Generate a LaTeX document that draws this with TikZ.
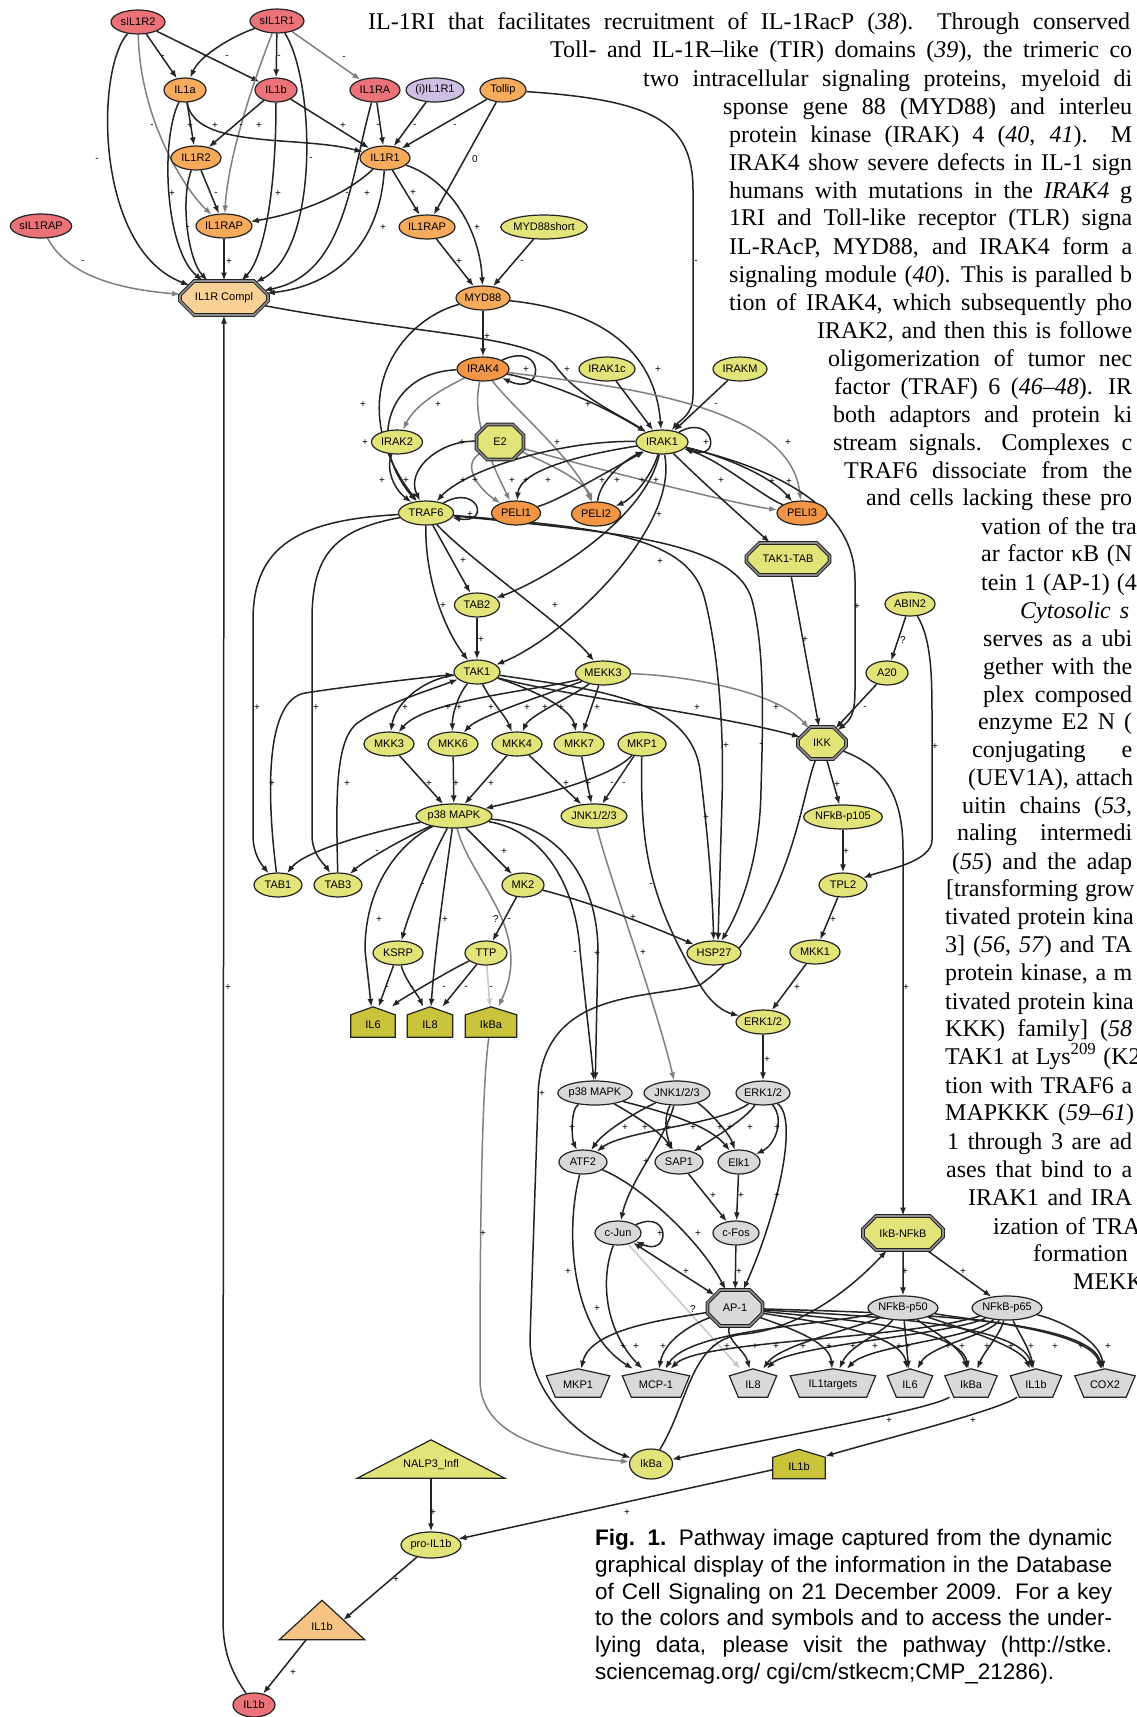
\documentclass[tikz,border=0pt]{standalone}
\usepackage{fontspec}
\setmainfont{Liberation Serif}
\setsansfont{Liberation Sans}
\usetikzlibrary{shapes.geometric,shapes.misc,arrows.meta,calc}
\definecolor{cred}{RGB}{234,114,120}
\definecolor{corg}{RGB}{246,170,92}
\definecolor{corgb}{RGB}{242,150,70}
\definecolor{cpale}{RGB}{249,208,150}
\definecolor{cpur}{RGB}{206,190,228}
\definecolor{cyel}{RGB}{226,228,122}
\definecolor{colv}{RGB}{201,196,60}
\definecolor{cgry}{RGB}{217,217,217}
\definecolor{ctri}{RGB}{245,196,132}
\definecolor{edk}{RGB}{35,35,35}
\pgfdeclarelayer{back}\pgfdeclarelayer{bg}\pgfsetlayers{back,bg,main}
\newcounter{lbc}
\newcommand\ptxfont{\rmfamily\fontsize{24}{28}\selectfont\spaceskip=9pt plus 9pt minus 2pt\relax}
\tikzset{
 nf/.style={font=\sffamily\fontsize{11}{12}\selectfont, inner sep=0pt},
 nd/.style={ellipse, draw=edk, line width=1.2pt, nf, minimum height=24pt},
 rd/.style={nd, fill=cred}, og/.style={nd, fill=corg}, ogb/.style={nd, fill=corgb},
 pu/.style={nd, fill=cpur}, yl/.style={nd, fill=cyel}, gy/.style={nd, fill=cgry},
 oct/.style={chamfered rectangle, chamfered rectangle xsep=9pt, chamfered rectangle ysep=9pt,
   draw=edk, double=black!45, double distance=1.6pt, line width=1pt, nf},
 shp/.style={inner sep=0pt, draw=none},
 hs/.style={fill=colv, draw=edk, line width=1.2pt},
 ps/.style={fill=cgry, draw=edk, line width=1.2pt},
 lb/.style={font=\sffamily\fontsize{10}{10}\selectfont, inner sep=0pt},
 ar/.style={draw=edk, line width=1.5pt, -{Latex[length=8pt,width=6pt]}},
 ab/.style={draw=edk, line width=1.5pt, {Latex[length=8pt,width=6pt]}-{Latex[length=8pt,width=6pt]}},
 ag/.style={ar, draw=black!50},
 al/.style={ar, draw=black!22},
 ptx/.style={anchor=base west, inner sep=0pt, font=\ptxfont},
 ctx/.style={anchor=base west, inner sep=0pt, font=\sffamily\fontsize{22.5}{26}\selectfont}
}
\newcommand\lab[3]{\stepcounter{lbc}\node[lb] (lab\arabic{lbc}) at (#1,-#2) {#3};}
\newcommand\tl[4]{\node[ptx] (#1) at (#2,-#3) {\makebox[\dimexpr1132pt-#2pt\relax][s]{#4}};}
\newcommand\house[6]{%
 \node[shp, minimum width=#4pt, minimum height=#5pt] (#1) at (#2,-#3) {};
 \filldraw[hs] (#1.south west) -- ($(#1.north west)+(0,-8)$) -- (#1.north) -- ($(#1.north east)+(0,-8)$) -- (#1.south east) -- cycle;
 \node[nf] (#1t) at ($(#1)+(0,-3)$) {#6};}
\newcommand\pent[5]{%
 \node[shp, minimum width=#4pt, minimum height=28pt] (#1) at (#2,-#3) {};
 \filldraw[ps] ($(#1.north west)+(0,-7)$) -- (#1.north) -- ($(#1.north east)+(0,-7)$) -- ($(#1.south east)+(-9,0)$) -- ($(#1.south west)+(9,0)$) -- cycle;
 \node[nf] (#1t) at ($(#1)+(0,-2)$) {#5};}
\begin{document}
\begin{tikzpicture}[x=1pt,y=1pt]
\begin{pgfonlayer}{back}
\fill[white] (0,0) rectangle (1136,-1717);
\end{pgfonlayer}
\useasboundingbox (0,0) rectangle (1136,-1717);
% ---------------- nodes
\node[rd, minimum width=54pt] (sIL1R2) at (138,-22) {sIL1R2};
\node[rd, minimum width=54pt] (sIL1R1) at (277,-21) {sIL1R1};
\node[og, minimum width=42pt] (IL1a) at (185,-90) {IL1a};
\node[rd, minimum width=42pt] (IL1b) at (276,-90) {IL1b};
\node[rd, minimum width=50pt] (IL1RA) at (375,-90) {IL1RA};
\node[pu, minimum width=58pt] (iIL1R1) at (435,-90) {(i)IL1R1};
\node[og, minimum width=46pt] (Tollip) at (503,-90) {Tollip};
\node[og, minimum width=50pt] (IL1R2) at (196,-158) {IL1R2};
\node[og, minimum width=50pt] (IL1R1) at (385,-158) {IL1R1};
\node[rd, minimum width=56pt] (sIL1RAP) at (41,-226) {sIL1RAP};
\node[og, minimum width=56pt] (IL1RAPa) at (224,-226) {IL1RAP};
\node[og, minimum width=56pt] (IL1RAPb) at (427,-227) {IL1RAP};
\node[yl, minimum width=80pt] (MYD88s) at (544,-227) {MYD88short};
\node[oct, fill=cpale, minimum width=88pt, minimum height=34pt] (IL1RC) at (224,-298) {IL1R Compl};
\node[og, minimum width=54pt] (MYD88) at (483,-298) {MYD88};
\node[ogb, minimum width=52pt] (IRAK4) at (483,-369) {IRAK4};
\node[yl, minimum width=56pt] (IRAK1c) at (607,-369) {IRAK1c};
\node[yl, minimum width=54pt] (IRAKM) at (740,-369) {IRAKM};
\node[yl, minimum width=51pt] (IRAK2) at (397,-442) {IRAK2};
\node[oct, fill=cyel, minimum width=47pt, minimum height=35pt] (E2) at (500,-442) {E2};
\node[yl, minimum width=52pt] (IRAK1) at (662,-442) {IRAK1};
\node[yl, minimum width=55pt] (TRAF6) at (426,-513) {TRAF6};
\node[ogb, minimum width=49pt] (PELI1) at (516,-513) {PELI1};
\node[ogb, minimum width=49pt] (PELI2) at (596,-514) {PELI2};
\node[ogb, minimum width=50pt] (PELI3) at (802,-513) {PELI3};
\node[oct, fill=cyel, minimum width=83pt, minimum height=32pt] (TAK1TAB) at (788,-559) {TAK1-TAB};
\node[yl, minimum width=45pt] (TAB2) at (477,-605) {TAB2};
\node[yl, minimum width=50pt] (ABIN2) at (910,-604) {ABIN2};
\node[yl, minimum width=46pt] (TAK1) at (477,-672) {TAK1};
\node[yl, minimum width=55pt] (MEKK3) at (603,-673) {MEKK3};
\node[yl, minimum width=42pt] (A20) at (887,-673) {A20};
\node[yl, minimum width=50pt] (MKK3) at (389,-744) {MKK3};
\node[yl, minimum width=50pt] (MKK6) at (453,-744) {MKK6};
\node[yl, minimum width=50pt] (MKK4) at (517,-744) {MKK4};
\node[yl, minimum width=50pt] (MKK7) at (579,-744) {MKK7};
\node[yl, minimum width=48pt] (MKP1y) at (642,-744) {MKP1};
\node[oct, fill=cyel, minimum width=48pt, minimum height=32pt] (IKK) at (822,-743) {IKK};
\node[yl, minimum width=76pt] (p38) at (454,-816) {p38 MAPK};
\node[yl, minimum width=66pt] (JNK) at (594,-816) {JNK1/2/3};
\node[yl, minimum width=76pt] (p105) at (843,-817) {NFkB-p105};
\node[yl, minimum width=48pt] (TAB1) at (278,-885) {TAB1};
\node[yl, minimum width=48pt] (TAB3) at (338,-885) {TAB3};
\node[yl, minimum width=42pt] (MK2) at (523,-885) {MK2};
\node[yl, minimum width=48pt] (TPL2) at (843,-885) {TPL2};
\node[yl, minimum width=50pt] (KSRP) at (398,-953) {KSRP};
\node[yl, minimum width=42pt] (TTP) at (486,-953) {TTP};
\node[yl, minimum width=54pt] (HSP27) at (714,-953) {HSP27};
\node[yl, minimum width=50pt] (MKK1) at (815,-952) {MKK1};
\node[yl, minimum width=54pt] (ERKy) at (763,-1022) {ERK1/2};
\house{IL6h}{373}{1022}{44}{30}{IL6}
\house{IL8h}{430}{1022}{45}{30}{IL8}
\house{IkBah}{491}{1022}{51}{30}{IkBa}
\node[gy, minimum width=72pt] (p38g) at (595,-1093) {p38 MAPK};
\node[gy, minimum width=66pt] (JNKg) at (677,-1093) {JNK1/2/3};
\node[gy, minimum width=54pt] (ERKg) at (763,-1093) {ERK1/2};
\node[gy, minimum width=48pt] (ATF2) at (583,-1162) {ATF2};
\node[gy, minimum width=48pt] (SAP1) at (679,-1162) {SAP1};
\node[gy, minimum width=42pt] (Elk1) at (739,-1162) {Elk1};
\node[gy, minimum width=46pt] (cJun) at (618,-1233) {c-Jun};
\node[gy, minimum width=46pt] (cFos) at (736,-1233) {c-Fos};
\node[oct, fill=cyel, minimum width=80pt, minimum height=34pt] (IkBNFkB) at (903,-1233) {IkB-NFkB};
\node[oct, fill=cgry, minimum width=55pt, minimum height=36pt] (AP1) at (735,-1308) {AP-1};
\node[gy, minimum width=70pt] (p50) at (903,-1308) {NFkB-p50};
\node[gy, minimum width=70pt] (p65) at (1007,-1308) {NFkB-p65};
\pent{MKP1p}{578}{1383}{63}{MKP1}
\pent{MCP1}{656}{1383}{67}{MCP-1}
\pent{IL8p}{753}{1383}{47}{IL8}
\pent{IL1t}{833}{1383}{85}{IL1targets}
\pent{IL6p}{910}{1383}{45}{IL6}
\pent{IkBap}{971}{1383}{52}{IkBa}
\pent{IL1bp}{1036}{1383}{51}{IL1b}
\pent{COX2}{1105}{1383}{60}{COX2}
\node[yl, minimum width=43pt, minimum height=30pt] (IkBay) at (651,-1464) {IkBa};
\house{IL1bh}{799}{1464}{52}{29}{IL1b}
\node[shp, minimum width=147pt, minimum height=38pt] (NALP3) at (431,-1459) {};
\filldraw[fill=cyel, draw=edk, line width=1.2pt] (NALP3.south west) -- (NALP3.north) -- (NALP3.south east) -- cycle;
\node[nf] (NALP3t) at (431,-1465) {NALP3\_Infl};
\node[yl, minimum width=60pt, minimum height=26pt] (proIL1b) at (431,-1545) {pro-IL1b};
\node[shp, minimum width=85pt, minimum height=39pt] (IL1btri) at (322,-1620) {};
\filldraw[fill=ctri, draw=edk, line width=1.2pt] (IL1btri.south west) -- (IL1btri.north) -- (IL1btri.south east) -- cycle;
\node[nf] (IL1btrit) at (322,-1627) {IL1b};
\node[rd, minimum width=42pt] (IL1bR) at (254,-1705) {IL1b};
% ---------------- edges
\begin{pgfonlayer}{bg}
\draw[ar] (sIL1R2) .. controls (95,-70) and (95,-250) .. (IL1RC);
\draw[ar] (sIL1R2) -- (IL1a);
\draw[ar] (sIL1R2) -- (IL1b);
\draw[ag] (sIL1R2) .. controls (140,-120) and (185,-190) .. (IL1RAPa);
\draw[ar] (sIL1R1) .. controls (235,-35) and (200,-55) .. (IL1a);
\draw[ar] (sIL1R1) -- (IL1b);
\draw[ag] (sIL1R1) .. controls (250,-90) and (228,-160) .. (IL1RAPa);
\draw[ar] (sIL1R1) .. controls (315,-80) and (320,-250) .. (IL1RC);
\draw[ag] (sIL1R1) -- (IL1RA);
\draw[ar] (IL1a) -- (IL1R2);
\draw[ar] (IL1a) .. controls (195,-150) and (300,-135) .. (IL1R1);
\draw[ar] (IL1a) .. controls (160,-140) and (165,-250) .. (IL1RC);
\draw[ar] (IL1b) -- (IL1R2);
\draw[ar] (IL1b) -- (IL1R1);
\draw[ar] (IL1b) .. controls (276,-200) and (262,-260) .. (IL1RC);
\draw[ar] (IL1RA) -- (IL1R1);
\draw[ar] (IL1RA) .. controls (350,-180) and (345,-275) .. (IL1RC);
\draw[ar] (IL1R2) -- (IL1RAPa);
\draw[ar] (IL1R2) .. controls (180,-200) and (188,-260) .. (IL1RC);
\draw[ar] (IL1R1) .. controls (340,-200) and (290,-215) .. (IL1RAPa);
\draw[ar] (IL1R1) .. controls (380,-240) and (340,-285) .. (IL1RC);
\draw[ar] (IL1R1) -- (IL1RAPb);
\draw[ar] (IL1R1) .. controls (450,-180) and (480,-230) .. (MYD88);
\draw[ar] (IL1RAPa) -- (IL1RC);
\draw[ag] (sIL1RAP) .. controls (70,-280) and (130,-290) .. (IL1RC);
\draw[ar] (iIL1R1) -- (IL1R1);
\draw[ar] (Tollip) -- (IL1R1);
\draw[ar] (Tollip) -- (IL1RAPb);
\draw[ar] (Tollip) .. controls (650,-100) and (693,-120) .. (693,-190) -- (693,-395) .. controls (693,-415) and (680,-420) .. (IRAK1);
\draw[ar] (IL1RAPb) -- (MYD88);
\draw[ar] (MYD88s) -- (MYD88);
\draw[ar] (MYD88) -- (IRAK4);
\draw[ar] (MYD88) .. controls (600,-310) and (655,-350) .. (IRAK1);
\draw[ar] (MYD88) .. controls (400,-320) and (340,-400) .. (TRAF6);
\draw[ar] (IL1RC) .. controls (420,-335) and (530,-335) .. (555,-365) .. controls (575,-395) and (620,-415) .. (IRAK1);
\draw[ar] (IRAK4.25) to[out=25,in=-25,looseness=7] (IRAK4.-25);
\draw[ag] (IRAK4) .. controls (440,-390) and (415,-405) .. (IRAK2);
\draw[ar] (IRAK4) .. controls (560,-385) and (610,-410) .. (IRAK1);
\draw[ar] (IRAK4) .. controls (390,-372) and (365,-440) .. (TRAF6);
\draw[ag] (IRAK4) .. controls (470,-420) and (495,-470) .. (PELI1);
\draw[ag] (IRAK4) .. controls (515,-410) and (575,-460) .. (PELI2);
\draw[ag] (IRAK4) .. controls (600,-385) and (790,-400) .. (PELI3);
\draw[ar] (IRAK1c) -- (IRAK1);
\draw[ar] (IRAKM) -- (IRAK1);
\draw[ar] (IRAK2) .. controls (385,-470) and (395,-490) .. (TRAF6);
\draw[ar] (E2) .. controls (440,-440) and (405,-470) .. (TRAF6);
\draw[ag] (E2) .. controls (460,-465) and (480,-490) .. (PELI1);
\draw[ag] (E2) .. controls (540,-460) and (585,-480) .. (PELI2);
\draw[ag] (E2) .. controls (600,-470) and (740,-505) .. (PELI3);
\draw[ar] (IRAK1.30) to[out=30,in=-20,looseness=6] (IRAK1.-15);
\draw[ar] (IRAK1) .. controls (560,-440) and (465,-470) .. (TRAF6);
\draw[ar] (IRAK1) .. controls (580,-455) and (520,-470) .. (PELI1);
\draw[ar] (PELI1) .. controls (560,-500) and (610,-470) .. (IRAK1);
\draw[ar] (IRAK1) .. controls (650,-480) and (630,-500) .. (PELI2);
\draw[ar] (PELI2) .. controls (600,-480) and (625,-460) .. (IRAK1);
\draw[ar] (IRAK1) .. controls (720,-455) and (770,-475) .. (PELI3);
\draw[ar] (PELI3) .. controls (760,-495) and (720,-460) .. (IRAK1);
\draw[ar] (IRAK1) .. controls (700,-480) and (745,-520) .. (TAK1TAB);
\draw[ar] (IRAK1) .. controls (645,-520) and (545,-580) .. (TAB2);
\draw[ar] (IRAK1) .. controls (680,-530) and (560,-640) .. (TAK1);
\draw[ar] (IRAK1) .. controls (760,-465) and (855,-500) .. (855,-580) -- (855,-690) .. controls (855,-715) and (850,-720) .. (IKK);
\draw[ar] (TRAF6.30) to[out=30,in=-10,looseness=6] (TRAF6.-10);
\draw[ar] (TRAF6) -- (TAB2);
\draw[ar] (TRAF6) .. controls (425,-580) and (445,-630) .. (TAK1);
\draw[ar] (TRAF6) .. controls (470,-560) and (570,-630) .. (MEKK3);
\draw[ar] (TRAF6) .. controls (300,-520) and (253,-545) .. (253,-620) -- (253,-835) .. controls (253,-855) and (262,-865) .. (TAB1);
\draw[ar] (TRAF6) .. controls (330,-530) and (312,-560) .. (312,-620) -- (312,-835) .. controls (312,-855) and (325,-865) .. (TAB3);
\draw[ar] (TAB1) .. controls (266,-790) and (266,-700) .. (305,-693) .. controls (350,-686) and (420,-678) .. (TAK1);
\draw[ar] (TAB3) .. controls (336,-800) and (335,-745) .. (355,-725) .. controls (380,-705) and (430,-690) .. (TAK1);
\draw[ar] (TAB2) -- (TAK1);
\draw[ar] (TAK1) .. controls (420,-680) and (395,-705) .. (MKK3);
\draw[ar] (TAK1) .. controls (458,-695) and (452,-715) .. (MKK6);
\draw[ar] (TAK1) .. controls (490,-700) and (505,-715) .. (MKK4);
\draw[ar] (TAK1) .. controls (520,-685) and (570,-705) .. (MKK7);
\draw[ar] (MEKK3) .. controls (540,-690) and (425,-700) .. (MKK3);
\draw[ar] (MEKK3) .. controls (560,-690) and (480,-715) .. (MKK6);
\draw[ar] (MEKK3) .. controls (575,-695) and (530,-715) .. (MKK4);
\draw[ar] (MEKK3) -- (MKK7);
\draw[ag] (MEKK3) .. controls (680,-675) and (775,-690) .. (IKK);
\draw[ar] (TAK1) .. controls (560,-695) and (720,-715) .. (IKK);
\draw[ar] (TRAF6) .. controls (600,-528) and (690,-535) .. (705,-600) .. controls (720,-660) and (724,-740) .. (722,-800) -- (718,-941);
\draw[ar] (TRAF6) .. controls (610,-532) and (735,-540) .. (752,-600) .. controls (765,-650) and (763,-720) .. (761,-790) .. controls (760,-860) and (740,-910) .. (HSP27);
\draw[ar] (TAK1) .. controls (600,-690) and (690,-700) .. (700,-770) .. controls (707,-830) and (712,-880) .. (HSP27);
\draw[ar] (MKK3) -- (p38);
\draw[ar] (MKK6) -- (p38);
\draw[ar] (MKK4) -- (p38);
\draw[ar] (MKK4) -- (JNK);
\draw[ar] (MKK7) -- (JNK);
\draw[ar] (MKP1y) -- (JNK);
\draw[ar] (MKP1y) .. controls (610,-780) and (520,-800) .. (p38);
\draw[ar] (MKP1y) .. controls (640,-850) and (650,-900) .. (700,-985) .. controls (712,-1005) and (725,-1012) .. (ERKy);
\draw[ag] (JNK) .. controls (610,-880) and (655,-1000) .. (JNKg);
\draw[ar] (p38) .. controls (380,-830) and (305,-850) .. (TAB1);
\draw[ar] (p38) .. controls (410,-835) and (365,-860) .. (TAB3);
\draw[ar] (p38) .. controls (430,-860) and (410,-910) .. (KSRP);
\draw[ar] (p38) .. controls (405,-840) and (365,-880) .. (365,-950) -- (IL6h);
\draw[ar] (p38) .. controls (445,-880) and (435,-950) .. (IL8h);
\draw[ag] (p38) .. controls (470,-880) and (535,-930) .. (IkBah);
\draw[ar] (p38) -- (MK2);
\draw[ar] (p38) .. controls (540,-830) and (575,-880) .. (580,-950) .. controls (585,-1000) and (590,-1040) .. (p38g);
\draw[ar] (p38) .. controls (560,-825) and (597,-880) .. (598,-950) -- (p38g);
\draw[ar] (MK2) -- (TTP);
\draw[ar] (MK2) .. controls (600,-905) and (660,-930) .. (HSP27);
\draw[ar] (KSRP) -- (IL6h);
\draw[ar] (KSRP) .. controls (405,-980) and (418,-995) .. (IL8h);
\draw[ar] (TTP) .. controls (450,-970) and (400,-1000) .. (IL6h);
\draw[ar] (TTP) -- (IL8h);
\draw[al] (TTP) -- (IkBah);
\draw[ag] (IkBah) .. controls (480,-1100) and (480,-1300) .. (480,-1380) .. controls (480,-1440) and (560,-1455) .. (IkBay);
\draw[ar] (IKK) .. controls (800,-800) and (790,-920) .. (700,-985) .. controls (640,-1000) and (538,-990) .. (538,-1100) -- (530,-1340) .. controls (530,-1400) and (590,-1445) .. (IkBay);
\draw[ar] (IKK) -- (p105);
\draw[ar] (IKK) .. controls (880,-765) and (903,-790) .. (903,-850) -- (IkBNFkB);
\draw[ar] (TAK1TAB) -- (IKK);
\draw[ar] (A20) -- (IKK);
\draw[ar] (ABIN2) -- (A20);
\draw[ar] (ABIN2) .. controls (932,-640) and (932,-680) .. (932,-720) -- (932,-840) .. controls (932,-862) and (885,-870) .. (TPL2);
\draw[ar] (p105) -- (TPL2);
\draw[ar] (TPL2) -- (MKK1);
\draw[ar] (MKK1) -- (ERKy);
\draw[ar] (ERKy) -- (ERKg);
\draw[ar] (p38g) .. controls (570,-1110) and (572,-1140) .. (ATF2);
\draw[ar] (p38g) .. controls (625,-1110) and (660,-1130) .. (SAP1);
\draw[ar] (p38g) .. controls (635,-1105) and (705,-1120) .. (Elk1);
\draw[ar] (JNKg) .. controls (640,-1110) and (605,-1130) .. (ATF2);
\draw[ar] (JNKg) .. controls (662,-1120) and (668,-1140) .. (SAP1);
\draw[ar] (JNKg) .. controls (702,-1105) and (728,-1130) .. (Elk1);
\draw[ar] (JNKg) .. controls (665,-1140) and (630,-1180) .. (cJun);
\draw[ar] (ERKg) .. controls (720,-1125) and (625,-1130) .. (ATF2);
\draw[ar] (ERKg) .. controls (745,-1120) and (710,-1140) .. (SAP1);
\draw[ar] (ERKg) .. controls (785,-1120) and (775,-1145) .. (Elk1);
\draw[ar] (ERKg) .. controls (800,-1120) and (775,-1220) .. (AP1);
\draw[ar] (SAP1) -- (cFos);
\draw[ar] (Elk1) -- (cFos);
\draw[ar] (cJun.25) to[out=25,in=-25,looseness=6] (cJun.-25);
\draw[ab] (cJun) -- (AP1);
\draw[ar] (cFos) -- (AP1);
\draw[ar] (ATF2) .. controls (640,-1185) and (700,-1240) .. (AP1);
\draw[ar] (ATF2) .. controls (565,-1230) and (570,-1330) .. (MCP1);
\draw[ar] (cJun) .. controls (600,-1280) and (605,-1330) .. (MCP1);
\draw[al] (cJun) -- (IL8p);
\draw[ar] (AP1) .. controls (660,-1320) and (590,-1330) .. (MKP1p);
\draw[ar] (AP1) .. controls (690,-1325) and (665,-1340) .. (MCP1);
\draw[ar] (AP1) .. controls (725,-1340) and (745,-1350) .. (IL8p);
\draw[ar] (AP1) .. controls (780,-1325) and (830,-1340) .. (IL1t);
\draw[ar] (AP1) .. controls (800,-1320) and (900,-1330) .. (IL6p);
\draw[ar] (AP1) .. controls (820,-1318) and (960,-1325) .. (IkBap);
\draw[ar] (AP1) .. controls (840,-1315) and (1020,-1320) .. (IL1bp);
\draw[ar] (AP1) .. controls (860,-1312) and (1090,-1315) .. (COX2);
\draw[ar] (p50) .. controls (820,-1325) and (690,-1330) .. (MCP1);
\draw[ar] (p50) .. controls (850,-1330) and (780,-1345) .. (IL8p);
\draw[ar] (p50) .. controls (880,-1335) and (850,-1345) .. (IL1t);
\draw[ar] (p50) -- (IL6p);
\draw[ar] (p50) .. controls (930,-1330) and (960,-1345) .. (IkBap);
\draw[ar] (p50) .. controls (950,-1325) and (1020,-1345) .. (IL1bp);
\draw[ar] (p50) .. controls (970,-1320) and (1090,-1330) .. (COX2);
\draw[ar] (p65) .. controls (900,-1340) and (700,-1340) .. (MCP1);
\draw[ar] (p65) .. controls (950,-1335) and (790,-1345) .. (IL8p);
\draw[ar] (p65) .. controls (970,-1340) and (870,-1345) .. (IL1t);
\draw[ar] (p65) .. controls (990,-1335) and (930,-1345) .. (IL6p);
\draw[ar] (p65) .. controls (1000,-1335) and (985,-1350) .. (IkBap);
\draw[ar] (p65) .. controls (1020,-1335) and (1030,-1350) .. (IL1bp);
\draw[ar] (p65) .. controls (1060,-1320) and (1100,-1340) .. (COX2);
\draw[ar] (IkBNFkB) -- (p50);
\draw[ar] (IkBNFkB) -- (p65);
\draw[ar] (IkBap) .. controls (930,-1410) and (760,-1440) .. (IkBay);
\draw[ar] (IL1bp) .. controls (1000,-1410) and (880,-1440) .. (IL1bh);
\draw[ar] (IkBay) .. controls (690,-1400) and (690,-1338) .. (745,-1334) .. controls (800,-1328) and (850,-1290) .. (IkBNFkB);
\draw[ar] (IL1bh) -- (proIL1b);
\draw[ar] (NALP3) -- (proIL1b);
\draw[ar] (proIL1b) -- ($(IL1btri.north)!0.5!(IL1btri.south east)$);
\draw[ar] (IL1btri) -- (IL1bR);
\draw[ar] (IL1bR) .. controls (230,-1670) and (223,-1650) .. (223,-1620) -- (IL1RC);
\end{pgfonlayer}
% ---------------- labels
\lab{97}{160}{-}\lab{163}{57}{-}\lab{205}{57}{-}\lab{227}{57}{-}\lab{279}{57}{-}\lab{344}{58}{-}
\lab{152}{126}{-}\lab{190}{126}{+}\lab{215}{126}{+}\lab{241}{126}{-}\lab{259}{126}{+}\lab{343}{126}{+}
\lab{378}{126}{-}\lab{415}{126}{-}\lab{455}{126}{-}\lab{475}{159}{0}\lab{311}{159}{-}
\lab{172}{194}{+}\lab{216}{194}{-}\lab{278}{194}{+}\lab{347}{194}{-}\lab{367}{194}{+}\lab{413}{193}{+}
\lab{188}{228}{-}\lab{383}{228}{+}\lab{477}{228}{+}\lab{229}{262}{+}\lab{83}{262}{-}\lab{459}{262}{+}
\lab{522}{262}{-}\lab{696}{262}{-}\lab{487}{337}{+}\lab{526}{370}{+}\lab{567}{370}{+}\lab{658}{370}{+}
\lab{363}{405}{+}\lab{438}{405}{+}\lab{588}{405}{+}\lab{716}{405}{-}
\lab{365}{443}{+}\lab{462}{443}{+}\lab{557}{443}{+}\lab{706}{443}{+}\lab{788}{443}{+}
\lab{382}{481}{+}\lab{406}{481}{+}\lab{463}{481}{+}\lab{475}{481}{+}\lab{512}{481}{+}\lab{526}{481}{+}
\lab{548}{481}{+}\lab{602}{481}{+}\lab{617}{481}{+}\lab{642}{481}{+}\lab{656}{481}{+}\lab{721}{481}{+}
\lab{772}{482}{+}\lab{789}{482}{+}
\lab{470}{515}{+}\lab{659}{515}{+}\lab{463}{561}{+}\lab{660}{562}{+}\lab{443}{606}{+}\lab{555}{606}{+}
\lab{857}{607}{+}\lab{481}{640}{+}\lab{805}{640}{+}\lab{903}{640}{?}
\lab{257}{708}{+}\lab{316}{708}{+}\lab{405}{708}{+}\lab{448}{708}{+}\lab{459}{708}{+}\lab{491}{708}{+}
\lab{527}{708}{+}\lab{545}{708}{+}\lab{561}{708}{+}\lab{597}{708}{+}\lab{697}{708}{+}\lab{776}{708}{+}
\lab{865}{708}{-}\lab{726}{746}{+}\lab{761}{745}{-}\lab{935}{747}{+}
\lab{272}{784}{+}\lab{347}{784}{+}\lab{429}{784}{+}\lab{456}{784}{+}\lab{491}{784}{+}\lab{566}{784}{+}
\lab{588}{784}{+}\lab{612}{784}{-}\lab{624}{784}{-}\lab{837}{785}{+}\lab{706}{818}{+}
\lab{377}{852}{-}\lab{504}{852}{+}\lab{846}{852}{+}\lab{423}{885}{-}\lab{651}{885}{-}
\lab{379}{920}{+}\lab{445}{920}{+}\lab{496}{919}{?}\lab{509}{920}{-}\lab{633}{918}{+}\lab{833}{920}{+}
\lab{575}{953}{-}\lab{597}{954}{+}\lab{643}{953}{+}
\lab{387}{988}{-}\lab{412}{988}{-}\lab{444}{988}{-}\lab{466}{988}{-}\lab{491}{988}{-}\lab{797}{988}{+}
\lab{906}{988}{+}\lab{228}{988}{+}\lab{767}{1060}{+}\lab{542}{1094}{+}
\lab{572}{1128}{+}\lab{625}{1128}{+}\lab{645}{1128}{+}\lab{668}{1128}{+}\lab{693}{1128}{+}\lab{720}{1128}{+}
\lab{730}{1128}{+}\lab{750}{1128}{+}\lab{777}{1128}{+}\lab{646}{1162}{+}
\lab{713}{1196}{+}\lab{741}{1196}{+}\lab{777}{1196}{+}
\lab{483}{1234}{+}\lab{660}{1234}{+}\lab{698}{1234}{+}
\lab{568}{1272}{+}\lab{686}{1272}{+}\lab{739}{1272}{+}\lab{905}{1272}{+}\lab{963}{1272}{+}
\lab{597}{1309}{+}\lab{693}{1309}{?}
\lab{623}{1347}{+}\lab{636}{1347}{+}\lab{663}{1347}{+}\lab{714}{1347}{-}\lab{727}{1347}{+}\lab{755}{1347}{+}
\lab{776}{1347}{+}\lab{803}{1347}{+}\lab{829}{1347}{+}\lab{853}{1347}{+}\lab{875}{1347}{+}\lab{899}{1347}{+}
\lab{908}{1347}{+}\lab{948}{1347}{+}\lab{962}{1347}{+}\lab{987}{1347}{+}\lab{1011}{1347}{+}\lab{1031}{1347}{+}
\lab{1055}{1347}{+}\lab{1081}{1347}{+}\lab{1108}{1347}{+}
\lab{889}{1421}{+}\lab{973}{1421}{+}\lab{433}{1513}{+}\lab{627}{1513}{+}\lab{396}{1580}{+}\lab{293}{1673}{+}
% ---------------- running text
\node[ptx] (t1) at (368,-29) {\makebox[762pt][s]{IL-1RI that facilitates recruitment of IL-1RacP (\textit{38}). Through conserved}};
\tl{t2}{550}{57}{Toll- and IL-1R–like (TIR) domains (\textit{39}), the trimeric co}
\tl{t3}{643}{86}{two intracellular signaling proteins, myeloid di}
\tl{t4}{723}{114}{sponse gene 88 (MYD88) and interleu}
\tl{t5}{729}{142}{protein kinase (IRAK) 4 (\textit{40}, \textit{41}). M}
\tl{t6}{729}{170}{IRAK4 show severe defects in IL-1 sign}
\tl{t7}{729}{198}{humans with mutations in the \textit{IRAK4} g}
\tl{t8}{729}{225}{1RI and Toll-like receptor (TLR) signa}
\tl{t9}{729}{254}{IL-RAcP, MYD88, and IRAK4 form a}
\tl{t10}{729}{282}{signaling module (\textit{40}). This is paralled b}
\tl{t11}{729}{310}{tion of IRAK4, which subsequently pho}
\tl{t12}{817}{338}{IRAK2, and then this is followe}
\tl{t13}{828}{366}{oligomerization of tumor nec}
\tl{t14}{834}{394}{factor (TRAF) 6 (\textit{46–48}). IR}
\tl{t15}{833}{422}{both adaptors and protein ki}
\tl{t16}{833}{450}{stream signals. Complexes c}
\tl{t17}{844}{478}{TRAF6 dissociate from the}
\tl{t18}{866}{505}{and cells lacking these pro}
\tl{t19}{981}{534}{vation of the tra}
\tl{t20}{981}{561}{ar factor κB (N}
\tl{t21}{981}{590}{tein 1 (AP-1) (4}
\node[ptx] (t22) at (1020,-618) {\textit{Cytosolic s}};
\tl{t23}{983}{646}{serves as a ubi}
\tl{t24}{983}{674}{gether with the}
\tl{t25}{983}{702}{plex composed}
\tl{t26}{978}{729}{enzyme E2 N (}
\tl{t27}{972}{757}{conjugating e}
\tl{t28}{968}{785}{(UEV1A), attach}
\tl{t29}{962}{813}{uitin chains (\textit{53},}
\tl{t30}{957}{840}{naling intermedi}
\tl{t31}{952}{869}{(\textit{55}) and the adap}
\tl{t32}{946}{896}{[transforming grow}
\tl{t33}{945}{924}{tivated protein kina}
\tl{t34}{945}{952}{3] (\textit{56}, \textit{57}) and TA}
\tl{t35}{945}{980}{protein kinase, a m}
\tl{t36}{945}{1009}{tivated protein kina}
\tl{t37}{945}{1036}{KKK) family] (\textit{58}}
\tl{t38}{945}{1064}{TAK1 at Lys\textsuperscript{209} (K2}
\tl{t39}{945}{1093}{tion with TRAF6 a}
\node[ptx] (t40) at (945,-1120) {MAPKKK (\textit{59–61})};
\tl{t41}{947}{1149}{1 through 3 are ad}
\tl{t42}{946}{1177}{ases that bind to a}
\tl{t43}{968}{1205}{IRAK1 and IRA}
\tl{t44}{993}{1234}{ization of TRA}
\node[ptx] (t45) at (1033,-1261) {formation};
\node[ptx] (t46) at (1073,-1289) {MEKK};
% ---------------- caption
\node[ctx] (c1) at (595,-1545) {\makebox[517pt][s]{\textbf{Fig. 1.} Pathway image captured from the dynamic}};
\node[ctx] (c2) at (595,-1572) {\makebox[517pt][s]{graphical display of the information in the Database}};
\node[ctx] (c3) at (595,-1599) {\makebox[517pt][s]{of Cell Signaling on 21 December 2009. For a key}};
\node[ctx] (c4) at (595,-1625) {\makebox[517pt][s]{to the colors and symbols and to access the under-}};
\node[ctx] (c5) at (595,-1652) {\makebox[517pt][s]{lying data, please visit the pathway (http://stke.}};
\node[ctx] (c6) at (595,-1679) {sciencemag.org/ cgi/cm/stkecm;CMP\_21286).};
\end{tikzpicture}
\end{document}
